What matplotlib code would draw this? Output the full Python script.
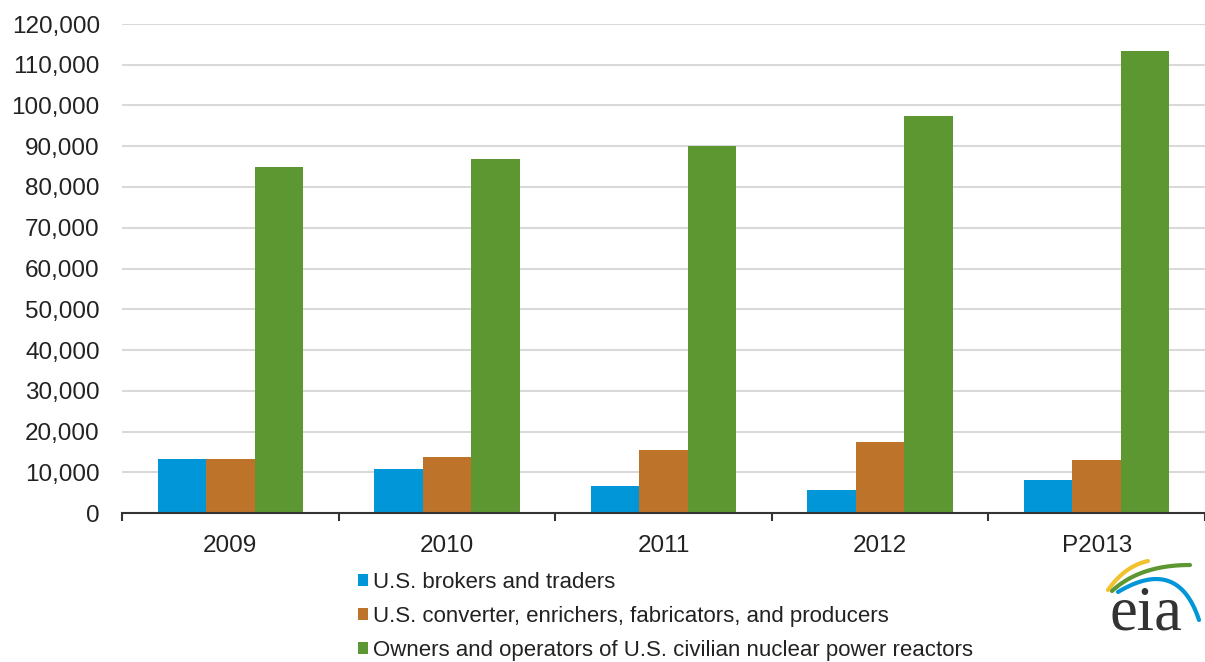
import matplotlib
matplotlib.use("Agg")
import matplotlib.pyplot as plt
import numpy as np
from matplotlib.ticker import FuncFormatter, FixedLocator
from matplotlib.lines import Line2D

categories = ["2009", "2010", "2011", "2012", "P2013"]
series_names = [
    "U.S. brokers and traders",
    "U.S. converter, enrichers, fabricators, and producers",
    "Owners and operators of U.S. civilian nuclear power reactors",
]
brokers = [13200, 10900, 6600, 5700, 8050]
converters = [13150, 13650, 15550, 17350, 13100]
owners = [84900, 86750, 90100, 97500, 113450]
yticks = list(range(0, 120001, 10000))

colors = ["#0096D7", "#BD732A", "#5D9732"]

plt.rcParams['font.family'] = ['Liberation Sans', 'DejaVu Sans']

W, H = 1205, 662
fig = plt.figure(figsize=(W / 100, H / 100), dpi=100)
ax = fig.add_axes([122 / W, 1 - 513 / H, (1205 - 122) / W, (513 - 24) / H])

x = np.arange(len(categories))
bw = 0.224
bars = []
for i, (vals, c) in enumerate(zip([brokers, converters, owners], colors)):
    b = ax.bar(x + (i - 1) * bw, vals, width=bw, color=c, zorder=3, label=series_names[i])
    bars.append(b)

ax.set_xlim(-0.5, len(categories) - 0.5)
ax.set_ylim(0, 120000)
ax.set_yticks(yticks)
ax.yaxis.set_major_formatter(FuncFormatter(lambda v, p: f"{int(v):,}"))
ax.grid(axis='y', color='#d9d9d9', linewidth=1.5, zorder=0)
ax.tick_params(axis='y', length=0, pad=16, labelsize=17.5, labelcolor='#222222')

ax.xaxis.set_major_locator(FixedLocator(np.arange(-0.5, len(categories), 1.0)))
ax.xaxis.set_minor_locator(FixedLocator(x))
ax.set_xticklabels([], minor=False)
ax.set_xticklabels(categories, minor=True)
ax.tick_params(axis='x', which='major', length=6, width=1.5, color='#333333', direction='out')
ax.tick_params(axis='x', which='minor', length=0, pad=16, labelsize=17.5, labelcolor='#222222')

for s in ['top', 'right', 'left']:
    ax.spines[s].set_visible(False)
ax.spines['bottom'].set_color('#333333')
ax.spines['bottom'].set_linewidth(1.5)
ax.spines['bottom'].set_zorder(4)

# legend
leg = fig.legend(handles=[b[0] for b in bars], labels=series_names,
                 loc='upper left', bbox_to_anchor=(358 / W, 1 - 572 / H),
                 frameon=False, handlelength=0.47, handleheight=0.47,
                 handletextpad=0.2, labelspacing=0.58, borderpad=0, borderaxespad=0,
                 prop={'family': ['Liberation Sans Narrow', 'Liberation Sans'], 'size': 16})
for t in leg.get_texts():
    t.set_color('#222222')

# eia logo
def px(xp, yp):
    return xp / W, 1 - yp / H

t = np.linspace(0, 1, 50)
def curve(p0, p1, p2, color, lw):
    xs = (1 - t) ** 2 * p0[0] + 2 * (1 - t) * t * p1[0] + t ** 2 * p2[0]
    ys = (1 - t) ** 2 * p0[1] + 2 * (1 - t) * t * p1[1] + t ** 2 * p2[1]
    fx, fy = px(xs, ys)
    fig.add_artist(Line2D(fx, fy, color=color, linewidth=lw, solid_capstyle='round'))

curve((1108, 590), (1125, 566), (1148, 561), '#F2C12E', 3)
curve((1112, 591), (1140, 565), (1190, 565), '#5D9732', 3)
curve((1118, 592), (1178, 556), (1199, 620), '#0096D7', 3)
fx, fy = px(1146, 630)
fig.text(fx, fy, "eia", ha='center', va='baseline', fontsize=45,
         family=['Liberation Serif', 'DejaVu Serif'], color='#333333')

fig.savefig("out.png", dpi=100)
